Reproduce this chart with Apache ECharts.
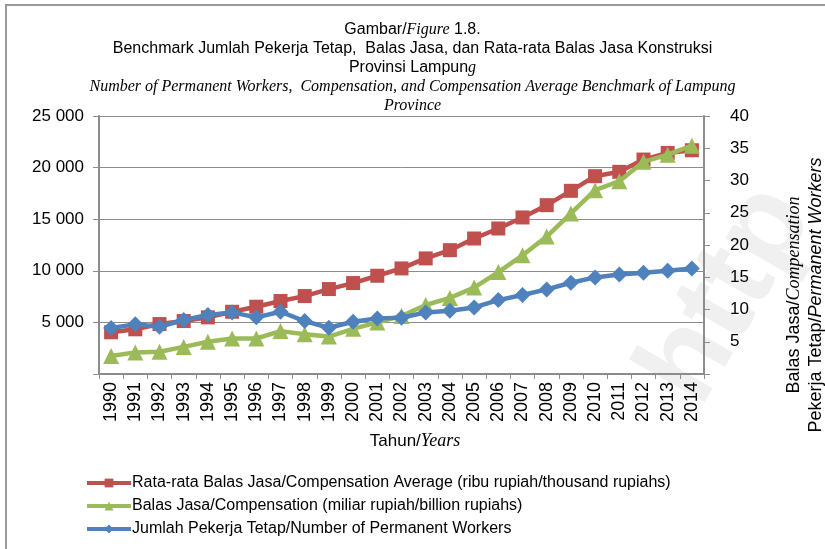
<!DOCTYPE html>
<html>
<head>
<meta charset="utf-8">
<script src="https://cdn.jsdelivr.net/npm/echarts@6/dist/echarts.min.js"></script>
<style>
  html, body { margin: 0; padding: 0; background: #fff; }
  #chart { width: 825px; height: 549px; }
</style>
</head>
<body>
<div id="chart"></div>
<script>
// data
var years = ['1990', '1991', '1992', '1993', '1994', '1995', '1996', '1997', '1998', '1999', '2000', '2001', '2002',
    '2003', '2004', '2005', '2006', '2007', '2008', '2009', '2010', '2011', '2012', '2013', '2014'];
// Rata-rata Balas Jasa (ribu rupiah) - left axis
var avgComp = [4040, 4330, 4840, 5130, 5490, 6030, 6520, 7070, 7550, 8230, 8810, 9520, 10230,
    11200, 12000, 13130, 14100, 15170, 16360, 17750, 19170, 19590, 20780, 21420, 21680];
// Balas Jasa (miliar rupiah) - right axis
var comp = [2.8, 3.35, 3.45, 4.2, 5.0, 5.5, 5.5, 6.65, 6.15, 5.8, 7.0, 8.0, 9.0,
    10.7, 11.8, 13.4, 15.8, 18.4, 21.3, 24.9, 28.5, 29.9, 32.9, 34.0, 35.4];
// Jumlah Pekerja Tetap - left axis
var workers = [4450, 4810, 4580, 5230, 5710, 5970, 5490, 6030, 5130, 4480, 5060, 5390, 5450,
    5970, 6130, 6450, 7160, 7650, 8200, 8840, 9360, 9650, 9810, 10000, 10230];

var names = [
    'Rata-rata Balas Jasa/Compensation Average (ribu rupiah/thousand rupiahs)',
    'Balas Jasa/Compensation (miliar rupiah/billion rupiahs)',
    'Jumlah Pekerja Tetap/Number of Permanent Workers'
];

var sans = 'Liberation Sans, Arial, sans-serif';
var serif = 'Liberation Serif, Times New Roman, serif';
var axisGray = '#8c8c8c';

var myChart = echarts.init(document.getElementById('chart'));
var option = {
    animation: false,
    backgroundColor: '#fff',
    title: {
        left: 'center',
        top: 15,
        text: '{a|Gambar/}{i|Figure}{a| 1.8.}\n' +
            '{a|Benchmark Jumlah Pekerja Tetap,  Balas Jasa, dan Rata-rata Balas Jasa Konstruksi}\n' +
            '{a|Provinsi Lampun}{i|g}\n' +
            '{i|Number of Permanent Workers,  Compensation, and Compensation Average Benchmark of Lampung}\n' +
            '{i|Province}',
        textStyle: {
            fontWeight: 'normal',
            lineHeight: 19,
            rich: {
                a: { fontFamily: sans, fontWeight: 'normal', fontSize: 16, color: '#000', lineHeight: 19 },
                i: { fontFamily: serif, fontWeight: 'normal', fontStyle: 'italic', fontSize: 16, color: '#000', lineHeight: 19 }
            }
        }
    },
    legend: {
        orient: 'vertical',
        left: 80,
        top: 470,
        itemWidth: 44,
        itemHeight: 11,
        itemGap: 7,
        data: names,
        lineStyle: { width: 4 },
        textStyle: { fontFamily: sans, fontSize: 16, color: '#000', padding: [0, 0, 0, -4] }
    },
    grid: {
        left: 99,
        right: 121,
        top: 116,
        bottom: 175,
        containLabel: false
    },
    xAxis: {
        type: 'category',
        data: years,
        boundaryGap: true,
        axisLine: { lineStyle: { color: axisGray, width: 2 } },
        axisTick: { show: true, length: 5, lineStyle: { color: axisGray }, interval: 0 },
        axisLabel: {
            interval: 0,
            rotate: 90,
            margin: 8,
            fontFamily: sans,
            fontSize: 18,
            color: '#000'
        }
    },
    yAxis: [{
        type: 'value',
        min: 0,
        max: 25000,
        interval: 5000,
        position: 'left',
        axisLine: { show: true, lineStyle: { color: axisGray, width: 2 } },
        axisTick: { show: true, length: 6, lineStyle: { color: axisGray } },
        splitLine: { lineStyle: { color: axisGray, width: 1 } },
        axisLabel: {
            margin: 15,
            fontFamily: sans,
            fontSize: 17,
            color: '#000',
            formatter: function (v) {
                if (v === 0) return '';
                return String(v).replace(/\B(?=(\d{3})+(?!\d))/g, ' ');
            }
        }
    }, {
        type: 'value',
        min: 0,
        max: 40,
        interval: 5,
        position: 'right',
        axisLine: { show: true, lineStyle: { color: axisGray, width: 2 } },
        axisTick: { show: true, length: 6, lineStyle: { color: axisGray } },
        splitLine: { show: false },
        axisLabel: {
            margin: 26,
            fontFamily: sans,
            fontSize: 17,
            color: '#000',
            formatter: function (v) { return v === 0 ? '' : v; }
        }
    }],
    graphic: [{
        // frame of the figure box
        type: 'polyline',
        silent: true,
        shape: { points: [[6, 549], [6, 5], [825, 5]] },
        style: { stroke: '#9a9a9a', lineWidth: 2, fill: null },
        z: 0
    }, {
        // faint watermark
        type: 'text',
        silent: true,
        x: 728,
        y: 295,
        rotation: 1.05,
        z: -10,
        style: {
            text: 'http',
            fontFamily: sans,
            fontWeight: 'bold',
            fontSize: 120,
            fill: '#f0f0f0',
            align: 'center',
            verticalAlign: 'middle'
        }
    }, {
        // x axis title
        type: 'text',
        silent: true,
        x: 415,
        y: 441,
        style: {
            text: '{a|Tahun/}{i|Years}',
            align: 'center',
            verticalAlign: 'middle',
            rich: {
                a: { fontFamily: sans, fontSize: 17, fill: '#000' },
                i: { fontFamily: serif, fontStyle: 'italic', fontSize: 18, fill: '#000' }
            }
        }
    }, {
        // right axis title
        type: 'text',
        silent: true,
        x: 805,
        y: 295,
        rotation: Math.PI / 2,
        style: {
            text: '{a|Balas Jasa/}{i|Compensation}\n{a|Pekerja Tetap/}{s|Permanent Workers}',
            align: 'center',
            verticalAlign: 'middle',
            rich: {
                a: { fontFamily: sans, fontSize: 18, fill: '#000', lineHeight: 22 },
                i: { fontFamily: serif, fontStyle: 'italic', fontSize: 18, fill: '#000', lineHeight: 22 },
                s: { fontFamily: sans, fontStyle: 'italic', fontSize: 18, fill: '#000', lineHeight: 22 }
            }
        }
    }],
    series: [{
        name: names[0],
        type: 'line',
        yAxisIndex: 0,
        data: avgComp,
        symbol: 'rect',
        symbolSize: 14,
        itemStyle: { color: '#C0504D' },
        lineStyle: { color: '#C0504D', width: 4.5 },
        z: 2
    }, {
        name: names[1],
        type: 'line',
        yAxisIndex: 1,
        data: comp,
        symbol: 'triangle',
        symbolSize: 16,
        itemStyle: { color: '#9BBB59' },
        lineStyle: { color: '#9BBB59', width: 4.5 },
        z: 3
    }, {
        name: names[2],
        type: 'line',
        yAxisIndex: 0,
        data: workers,
        symbol: 'diamond',
        symbolSize: 16,
        itemStyle: { color: '#4F81BD' },
        lineStyle: { color: '#4F81BD', width: 4.5 },
        z: 4
    }]
};
myChart.setOption(option);
</script>
</body>
</html>
